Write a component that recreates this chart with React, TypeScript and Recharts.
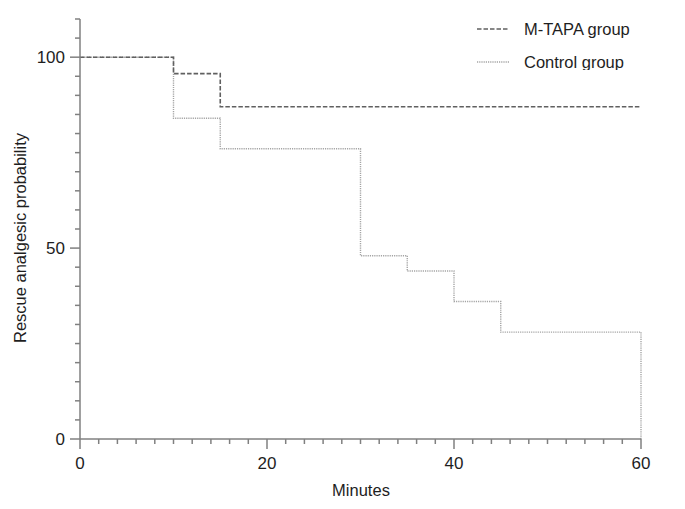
import React from 'react';
import { LineChart, Line, XAxis, YAxis } from 'recharts';

const times = [0, 10, 15, 30, 35, 40, 45, 60];
const mTapaValues = [100, 95.7, 87, 87, 87, 87, 87, 87];
const controlValues = [100, 84, 76, 48, 44, 36, 28, 0];

const seriesNames = ['M-TAPA group', 'Control group'];

const xTicks = [0, 2, 4, 6, 8, 10, 12, 14, 16, 18, 20, 22, 24, 26, 28, 30, 32, 34, 36, 38, 40, 42, 44, 46, 48, 50, 52, 54, 56, 58, 60];
const xMajor = [0, 20, 40, 60];
const yTicks = [0, 5, 10, 15, 20, 25, 30, 35, 40, 45, 50, 55, 60, 65, 70, 75, 80, 85, 90, 95, 100, 105, 110];
const yMajor = [0, 50, 100];

const data = times.map((t, i) => ({ t, mTapa: mTapaValues[i], control: controlValues[i] }));

const FONT = '"Liberation Sans", Arial, Helvetica, sans-serif';
const AXIS = '#808080';
const TEXT = '#1e1e1e';
const MTAPA_COLOR = '#606060';
const CONTROL_COLOR = '#a4a4a4';

const XTick = (props: any) => {
  const { x, y, payload } = props;
  const major = xMajor.includes(payload.value);
  return (
    <g>
      <line x1={x} x2={x} y1={y} y2={y + (major ? 10 : 5)} stroke={AXIS} strokeWidth={1.5} />
      {major && (
        <text x={x} y={y + 30} textAnchor="middle" fill={TEXT} fontSize={17} fontFamily={FONT}>
          {payload.value}
        </text>
      )}
    </g>
  );
};

const YTick = (props: any) => {
  const { x, y, payload } = props;
  const major = yMajor.includes(payload.value);
  return (
    <g>
      <line x1={x - (major ? 10 : 5)} x2={x} y1={y} y2={y} stroke={AXIS} strokeWidth={1.5} />
      {major && (
        <text x={x - 15} y={y} dy={6} textAnchor="end" fill={TEXT} fontSize={17} fontFamily={FONT}>
          {payload.value}
        </text>
      )}
    </g>
  );
};

export default function App() {
  return (
    <div style={{ position: 'absolute', left: 0, top: 0, width: 685, height: 509, background: '#fff' }}>
      <LineChart
        width={685}
        height={509}
        data={data}
        margin={{ top: 19, right: 44, left: 0, bottom: 0 }}
      >
        <XAxis
          dataKey="t"
          type="number"
          domain={[0, 60]}
          ticks={xTicks}
          interval={0}
          tick={<XTick />}
          tickLine={false}
          tickSize={0}
          tickMargin={0}
          axisLine={{ stroke: AXIS, strokeWidth: 1.5 }}
          height={70}
          label={(p: any) => (
            <text x={361} y={496} textAnchor="middle" fill={TEXT} fontSize={16.5} fontFamily={FONT}>
              Minutes
            </text>
          )}
        />
        <YAxis
          type="number"
          domain={[0, 110]}
          ticks={yTicks}
          interval={0}
          tick={<YTick />}
          tickLine={false}
          tickSize={0}
          tickMargin={0}
          axisLine={{ stroke: AXIS, strokeWidth: 1.5 }}
          width={80}
          label={(p: any) => (
            <text
              x={26}
              y={238}
              transform="rotate(-90, 26, 238)"
              textAnchor="middle"
              fill={TEXT}
              fontSize={16.5}
              fontFamily={FONT}
            >
              Rescue analgesic probability
            </text>
          )}
        />
        <Line
          type="stepAfter"
          dataKey="control"
          name={seriesNames[1]}
          stroke={CONTROL_COLOR}
          strokeWidth={1.4}
          strokeDasharray="1.2 1"
          dot={false}
          activeDot={false}
          isAnimationActive={false}
        />
        <Line
          type="stepAfter"
          dataKey="mTapa"
          name={seriesNames[0]}
          stroke={MTAPA_COLOR}
          strokeWidth={1.6}
          strokeDasharray="4.5 2"
          dot={false}
          activeDot={false}
          isAnimationActive={false}
        />
      </LineChart>
      <svg width={200} height={60} style={{ position: 'absolute', left: 470, top: 10 }}>
        <line x1={7} x2={39} y1={19} y2={19} stroke={MTAPA_COLOR} strokeWidth={1.6} strokeDasharray="4.5 2" />
        <text x={54} y={25} fill={TEXT} fontSize={16.5} fontFamily={FONT}>{seriesNames[0]}</text>
        <line x1={7} x2={39} y1={52} y2={52} stroke={CONTROL_COLOR} strokeWidth={1.4} strokeDasharray="1.2 1" />
        <text x={54} y={58} fill={TEXT} fontSize={16.5} fontFamily={FONT}>{seriesNames[1]}</text>
      </svg>
    </div>
  );
}
